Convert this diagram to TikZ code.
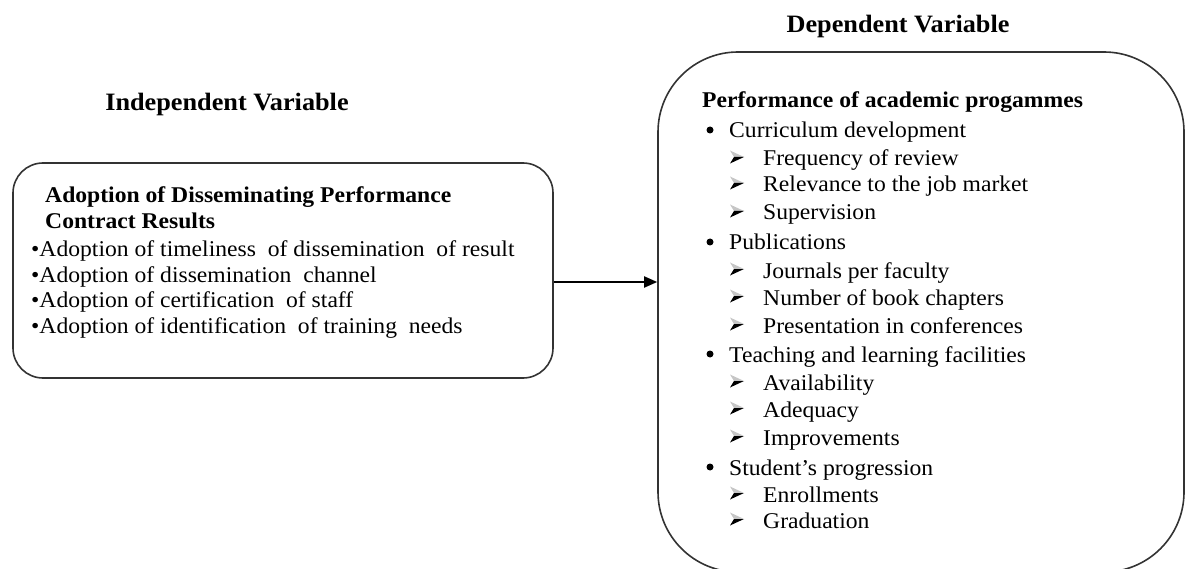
\documentclass[tikz,border=0pt]{standalone}
\usepackage{fontspec}
\setmainfont{Liberation Serif}[FakeStretch=1.05]
\usetikzlibrary{arrows.meta}
\begin{document}
\begin{tikzpicture}[x=1pt,y=-1pt,
  frame/.style={draw=black!80,line width=1.6pt,inner sep=0pt},
  heading/.style={font=\fontsize{25}{30}\selectfont\bfseries,anchor=base,inner sep=0pt},
  boxtitle/.style={font=\fontsize{22.5}{27}\selectfont\bfseries,anchor=base west,inner sep=0pt},
  body/.style={font=\fontsize{22.5}{27}\selectfont,anchor=base west,inner sep=0pt},
  dot/.style={circle,fill=black,inner sep=0pt,minimum size=7pt},
  link/.style={draw=black,line width=1.8pt,-{Triangle[length=13pt,width=11pt]}},
  subarrow/.pic={
    \fill[gray!45] (0,-6.5) -- (14,0) -- (4,0) -- cycle;
    \fill[black] (4,0) -- (14,0) -- (0,6.5) -- cycle;
  }
]
\useasboundingbox (0,0) rectangle (1185,569);

% column headings
\node[heading] (indhead) at (227,111) {Independent Variable};
\node[heading] (dephead) at (898,33) {Dependent Variable};

% the two rounded boxes
\node[frame,rounded corners=30pt,minimum width=540pt,minimum height=215pt] (indep) at (283,270.5) {};
\node[frame,rounded corners=80pt,minimum width=526pt,minimum height=520pt] (dep) at (921,312) {};

% connector between the boxes
\coordinate (linkstart) at ([yshift=-11.5pt]indep.east);
\draw[link] (linkstart) -- (dep.west |- linkstart);

% independent variable box contents
\node[boxtitle] (indtitleA) at (45,203) {Adoption of Disseminating Performance};
\node[boxtitle] (indtitleB) at (45,229) {Contract Results};
\foreach \txt/\yy [count=\i] in {
  Adoption of timeliness\ \ of dissemination\ \ of result/257,
  Adoption of dissemination\ \ channel/282,
  Adoption of certification\ \ of staff/307,
  Adoption of identification\ \ of training\ \ needs/333}
  \node[body] (inditem\i) at (31,\yy) {•\txt};

% dependent variable box contents
\node[boxtitle] (deptitle) at (702,108) {Performance of academic progammes};
\foreach \txt/\yy [count=\i] in {
  Curriculum development/138,
  Publications/250,
  Teaching and learning facilities/362,
  Student’s progression/475} {
  \node[dot] (depdot\i) at (710,\yy-8) {};
  \node[body] (depitem\i) at (729,\yy) {\txt};
}
\foreach \txt/\yy [count=\i] in {
  Frequency of review/166,
  Relevance to the job market/192,
  Supervision/220,
  Journals per faculty/278,
  Number of book chapters/305,
  Presentation in conferences/333,
  Availability/390,
  Adequacy/417,
  Improvements/445,
  Enrollments/502,
  Graduation/528} {
  \pic at (730,\yy-9) {subarrow};
  \node[body] (depsub\i) at (763,\yy) {\txt};
}
\end{tikzpicture}
\end{document}
